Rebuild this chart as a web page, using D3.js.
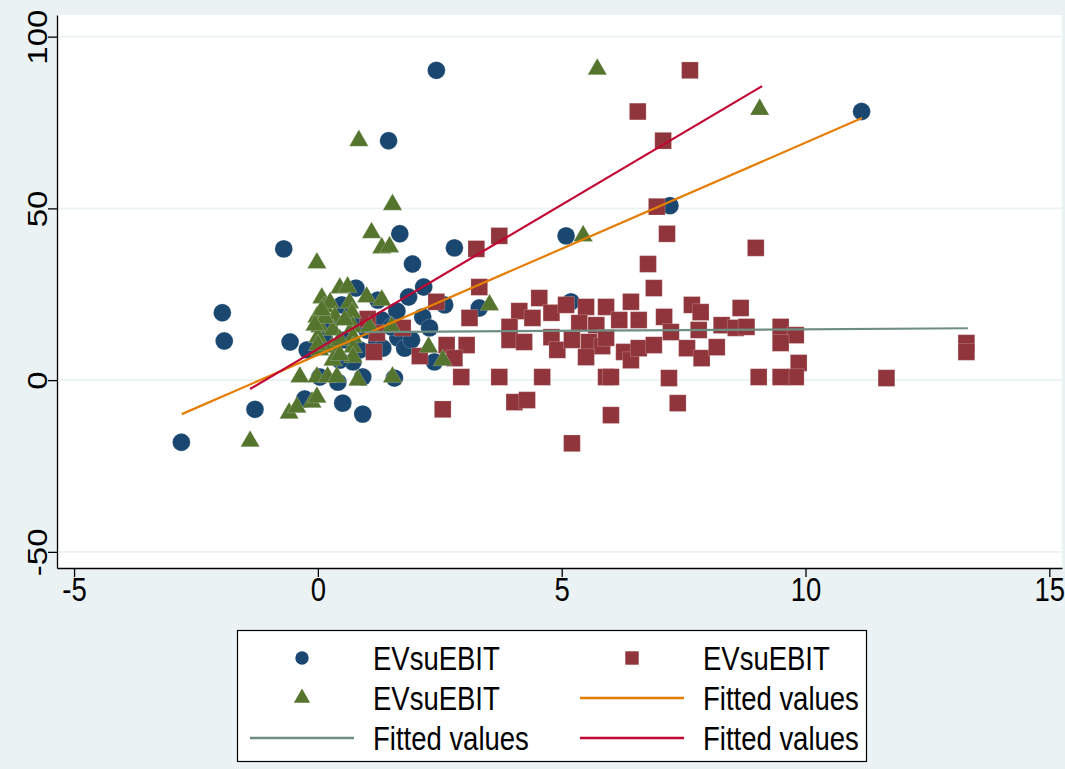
<!DOCTYPE html>
<html>
<head>
<meta charset="utf-8">
<script src="https://cdn.jsdelivr.net/npm/d3@7"></script>
<style>
  body { margin: 0; background: #eaf2f3; }
  svg { display: block; }
</style>
</head>
<body>
<svg id="chart" width="1065" height="769"></svg>
<script>
// tick values
const xTicks = [-5, 0, 5, 10, 15];
const yTicks = [-50, 0, 50, 100];

// legend labels, in Stata order (row-wise, 2 columns)
const legendLabels = ['EVsuEBIT', 'EVsuEBIT', 'EVsuEBIT', 'Fitted values', 'Fitted values', 'Fitted values'];

// series 1 : circles
const circlePts = [
  [-2.80, -18.1], [-1.96, 19.6], [-1.92, 11.4], [-1.29, -8.5], [-0.70, 38.2],
  [-0.57, 11.1], [-0.22, 8.8], [-0.27, -5.5], [0.51, -6.7], [0.92, -9.9],
  [2.43, 90.2], [1.45, 69.7], [1.68, 42.6], [1.94, 33.8], [2.80, 38.5],
  [5.09, 42.0], [7.22, 50.8], [11.15, 78.2], [5.19, 22.8], [2.17, 27.1],
  [1.86, 24.2], [2.15, 18.4], [2.29, 15.2], [2.60, 21.9], [3.31, 21.0],
  [0.78, 26.8], [0.49, 21.9], [1.23, 23.3], [1.62, 20.1], [1.31, 17.5],
  [1.64, 12.3], [1.78, 9.3], [1.21, 11.1], [1.33, 9.3], [0.72, 5.3],
  [0.92, 0.9], [1.57, 0.6], [2.39, 5.3], [0.41, -0.6], [0.04, 0.9],
  [1.51, 15.5], [1.92, 11.7], [1.00, 14.6], [0.76, 16.9], [0.25, 16.9],
  [0.14, 11.7], [0.55, 11.7], [0.86, 8.8], [0.45, 5.8]
];

// series 2 : squares
const squarePts = [
  [6.56, 78.2], [7.63, 90.2], [7.08, 69.7], [6.95, 50.5], [7.16, 42.6],
  [6.77, 33.8], [6.89, 26.8], [8.98, 38.5], [3.72, 42.0], [3.25, 38.2],
  [3.31, 27.1], [1.02, 17.8], [1.15, 8.2], [2.43, 22.8], [3.11, 18.1],
  [2.64, 10.2], [3.05, 10.2], [2.80, 6.4], [2.09, 7.0], [2.94, 0.9],
  [3.72, 0.9], [4.60, 0.9], [2.56, -8.5], [4.03, -6.4], [4.29, -5.8],
  [5.21, -18.4], [6.01, -10.2], [5.91, 0.9], [7.20, 0.6], [7.38, -6.7],
  [4.54, 23.9], [4.13, 20.1], [4.40, 18.1], [3.93, 15.5], [3.93, 11.7],
  [4.23, 11.1], [4.79, 19.6], [4.79, 12.5], [5.09, 21.9], [4.91, 8.8],
  [5.50, 21.3], [5.91, 21.3], [5.36, 16.6], [5.71, 16.0], [5.21, 11.7],
  [5.56, 11.1], [5.83, 9.9], [5.50, 6.7], [6.42, 22.8], [6.18, 17.5],
  [6.58, 17.5], [7.10, 18.4], [7.24, 14.0], [5.91, 12.3], [6.28, 8.2],
  [6.42, 5.8], [6.58, 9.3], [6.89, 10.2], [7.67, 21.9], [7.85, 19.8],
  [7.81, 14.6], [7.57, 9.3], [7.87, 6.4], [8.18, 9.6], [8.28, 16.0],
  [8.67, 21.0], [8.57, 15.2], [8.79, 15.5], [9.49, 15.5], [9.80, 13.1],
  [9.49, 10.8], [9.86, 5.0], [9.80, 0.9], [9.49, 0.9], [9.04, 0.9],
  [11.66, 0.6], [13.30, 10.8], [13.30, 8.2], [6.01, 0.9], [1.21, 13.7],
  [1.74, 15.2]
];

// series 3 : triangles
const trianglePts = [
  [-1.39, -17.8], [-0.59, -9.6], [-0.43, -7.9], [-0.12, -6.4], [-0.02, -5.0],
  [-0.37, 0.9], [-0.02, 0.9], [0.20, 0.9], [0.39, 0.9], [0.82, 0.0],
  [1.53, 0.9], [2.56, 5.8], [2.27, 9.6], [3.52, 21.9], [5.44, 42.0],
  [5.73, 90.5], [9.06, 78.8], [0.84, 69.7], [1.53, 51.1], [1.10, 42.9],
  [1.31, 38.5], [1.47, 38.8], [-0.02, 34.1], [0.45, 26.8], [0.61, 27.1],
  [1.00, 24.2], [1.31, 23.3], [0.08, 23.9], [0.14, 21.3], [-0.02, 18.4],
  [0.04, 15.5], [0.00, 12.5], [0.25, 22.5], [0.35, 18.4], [0.31, 14.6],
  [0.29, 9.6], [0.31, 5.8], [0.65, 22.5], [0.70, 19.6], [0.72, 15.5],
  [0.72, 12.5], [0.72, 9.6], [1.06, 15.5], [1.51, 15.5], [0.72, 6.7],
  [0.04, 8.8], [0.45, 11.7], [0.55, 17.5], [0.14, 18.1], [0.08, 20.4],
  [-0.06, 16.0], [0.00, 10.2], [0.45, 7.3]
];

// fitted lines (end points)
const fitOrange = [[-2.79, -9.9], [11.16, 76.3]];
const fitGray = [[0.96, 14.0], [13.33, 15.1]];
const fitRed = [[-1.39, -2.6], [9.11, 85.6]];

const colors = {
  navy: '#1a476f', maroon: '#90353b', green: '#55752f',
  orange: '#e37e00', teal: '#6e8e84', red: '#c10534'
};

const svg = d3.select('#chart');
const plot = { left: 57, right: 1062, top: 15, bottom: 568 };

const x = d3.scaleLinear().domain([-5.35, 15.26]).range([plot.left, plot.right]);
const y = d3.scaleLinear().domain([-54.7, 106.3]).range([plot.bottom, plot.top]);

const fontFamily = '"Liberation Sans", Arial, Helvetica, sans-serif';
const fontSize = 27.5;
const stretch = 1.2; // texte un peu plus haut que large, comme l'export Stata

// fond
svg.append('rect').attr('width', 1065).attr('height', 769).attr('fill', '#eaf2f3');
svg.append('rect')
  .attr('x', plot.left).attr('y', plot.top)
  .attr('width', plot.right - plot.left).attr('height', plot.bottom - plot.top)
  .attr('fill', '#fff');

// grid
svg.append('g')
  .selectAll('line')
  .data(yTicks)
  .enter()
  .append('line')
  .attr('x1', plot.left).attr('x2', plot.right)
  .attr('y1', d => y(d)).attr('y2', d => y(d))
  .attr('stroke', '#eaf2f3')
  .attr('stroke-width', 1.6);

// axes
const xAxis = svg.append('g')
  .attr('transform', `translate(0,${plot.bottom})`)
  .call(d3.axisBottom(x).tickValues(xTicks).tickSize(9).tickSizeOuter(0));
xAxis.select('.domain').attr('stroke', '#000').attr('stroke-width', 1.3);
xAxis.selectAll('.tick line').attr('stroke', '#000').attr('stroke-width', 1.3);
xAxis.selectAll('.tick text')
  .attr('x', 0).attr('y', 0).attr('dy', 0)
  .attr('transform', `translate(0,33) scale(1,${stretch})`)
  .attr('fill', '#000')
  .style('font-family', fontFamily)
  .style('font-size', fontSize + 'px')
  .text(d => d < 0 ? '-' + Math.abs(d) : d);

const yAxis = svg.append('g')
  .attr('transform', `translate(${plot.left},0)`)
  .call(d3.axisLeft(y).tickValues(yTicks).tickSize(9).tickSizeOuter(0));
yAxis.select('.domain').attr('stroke', '#000').attr('stroke-width', 1.3);
yAxis.selectAll('.tick line').attr('stroke', '#000').attr('stroke-width', 1.3);
yAxis.selectAll('.tick text')
  .attr('x', 0).attr('y', 0).attr('dy', 0)
  .attr('transform', `translate(-10,0) scale(1,${stretch}) rotate(-90)`)
  .attr('text-anchor', 'middle')
  .attr('fill', '#000')
  .style('font-family', fontFamily)
  .style('font-size', fontSize + 'px')
  .text(d => d < 0 ? '-' + Math.abs(d) : d);

// markers
const symCircle = d3.symbol().type(d3.symbolCircle).size(250);
const symSquare = d3.symbol().type(d3.symbolSquare).size(280);
const symTriangle = d3.symbol().type(d3.symbolTriangle).size(160);

function drawPoints(data, gen, color) {
  svg.append('g')
    .selectAll('path')
    .data(data)
    .enter()
    .append('path')
    .attr('d', gen)
    .attr('transform', d => `translate(${x(d[0])},${y(d[1])})`)
    .attr('fill', color)
    .attr('stroke', '#fff')
    .attr('stroke-opacity', 0.35)
    .attr('stroke-width', 0.6);
}
drawPoints(circlePts, symCircle, colors.navy);
drawPoints(squarePts, symSquare, colors.maroon);
drawPoints(trianglePts, symTriangle, colors.green);

// fitted lines
const line = d3.line().x(d => x(d[0])).y(d => y(d[1]));
[[fitOrange, colors.orange], [fitGray, colors.teal], [fitRed, colors.red]].forEach(([pts, c]) => {
  svg.append('path')
    .attr('d', line(pts))
    .attr('fill', 'none')
    .attr('stroke', c)
    .attr('stroke-width', 2.2);
});

// legend
const lg = svg.append('g');
lg.append('rect')
  .attr('x', 237.5).attr('y', 630.5).attr('width', 629).attr('height', 131)
  .attr('fill', '#fff').attr('stroke', '#000').attr('stroke-width', 1.2);

const keys = [
  { kind: 'circle', color: colors.navy },
  { kind: 'square', color: colors.maroon },
  { kind: 'triangle', color: colors.green },
  { kind: 'line', color: colors.orange },
  { kind: 'line', color: colors.teal },
  { kind: 'line', color: colors.red }
];
const colKey = [302, 632];
const colText = [373, 703];
const rowY = [658, 698, 738];
const legSym = {
  circle: d3.symbol().type(d3.symbolCircle).size(140),
  square: d3.symbol().type(d3.symbolSquare).size(180),
  triangle: d3.symbol().type(d3.symbolTriangle).size(115)
};

keys.forEach((k, i) => {
  const col = i % 2, row = Math.floor(i / 2);
  const cx = colKey[col], cy = rowY[row];
  if (k.kind === 'line') {
    lg.append('line')
      .attr('x1', cx - 52).attr('x2', cx + 52)
      .attr('y1', cy).attr('y2', cy)
      .attr('stroke', k.color).attr('stroke-width', 2.6);
  } else {
    lg.append('path')
      .attr('d', legSym[k.kind])
      .attr('transform', `translate(${cx},${cy})`)
      .attr('fill', k.color);
  }
  lg.append('text')
    .attr('transform', `translate(${colText[col]},${cy + fontSize * 0.358 * stretch}) scale(1,${stretch})`)
    .attr('fill', '#000')
    .style('font-family', fontFamily)
    .style('font-size', fontSize + 'px')
    .text(legendLabels[i]);
});
</script>
</body>
</html>
